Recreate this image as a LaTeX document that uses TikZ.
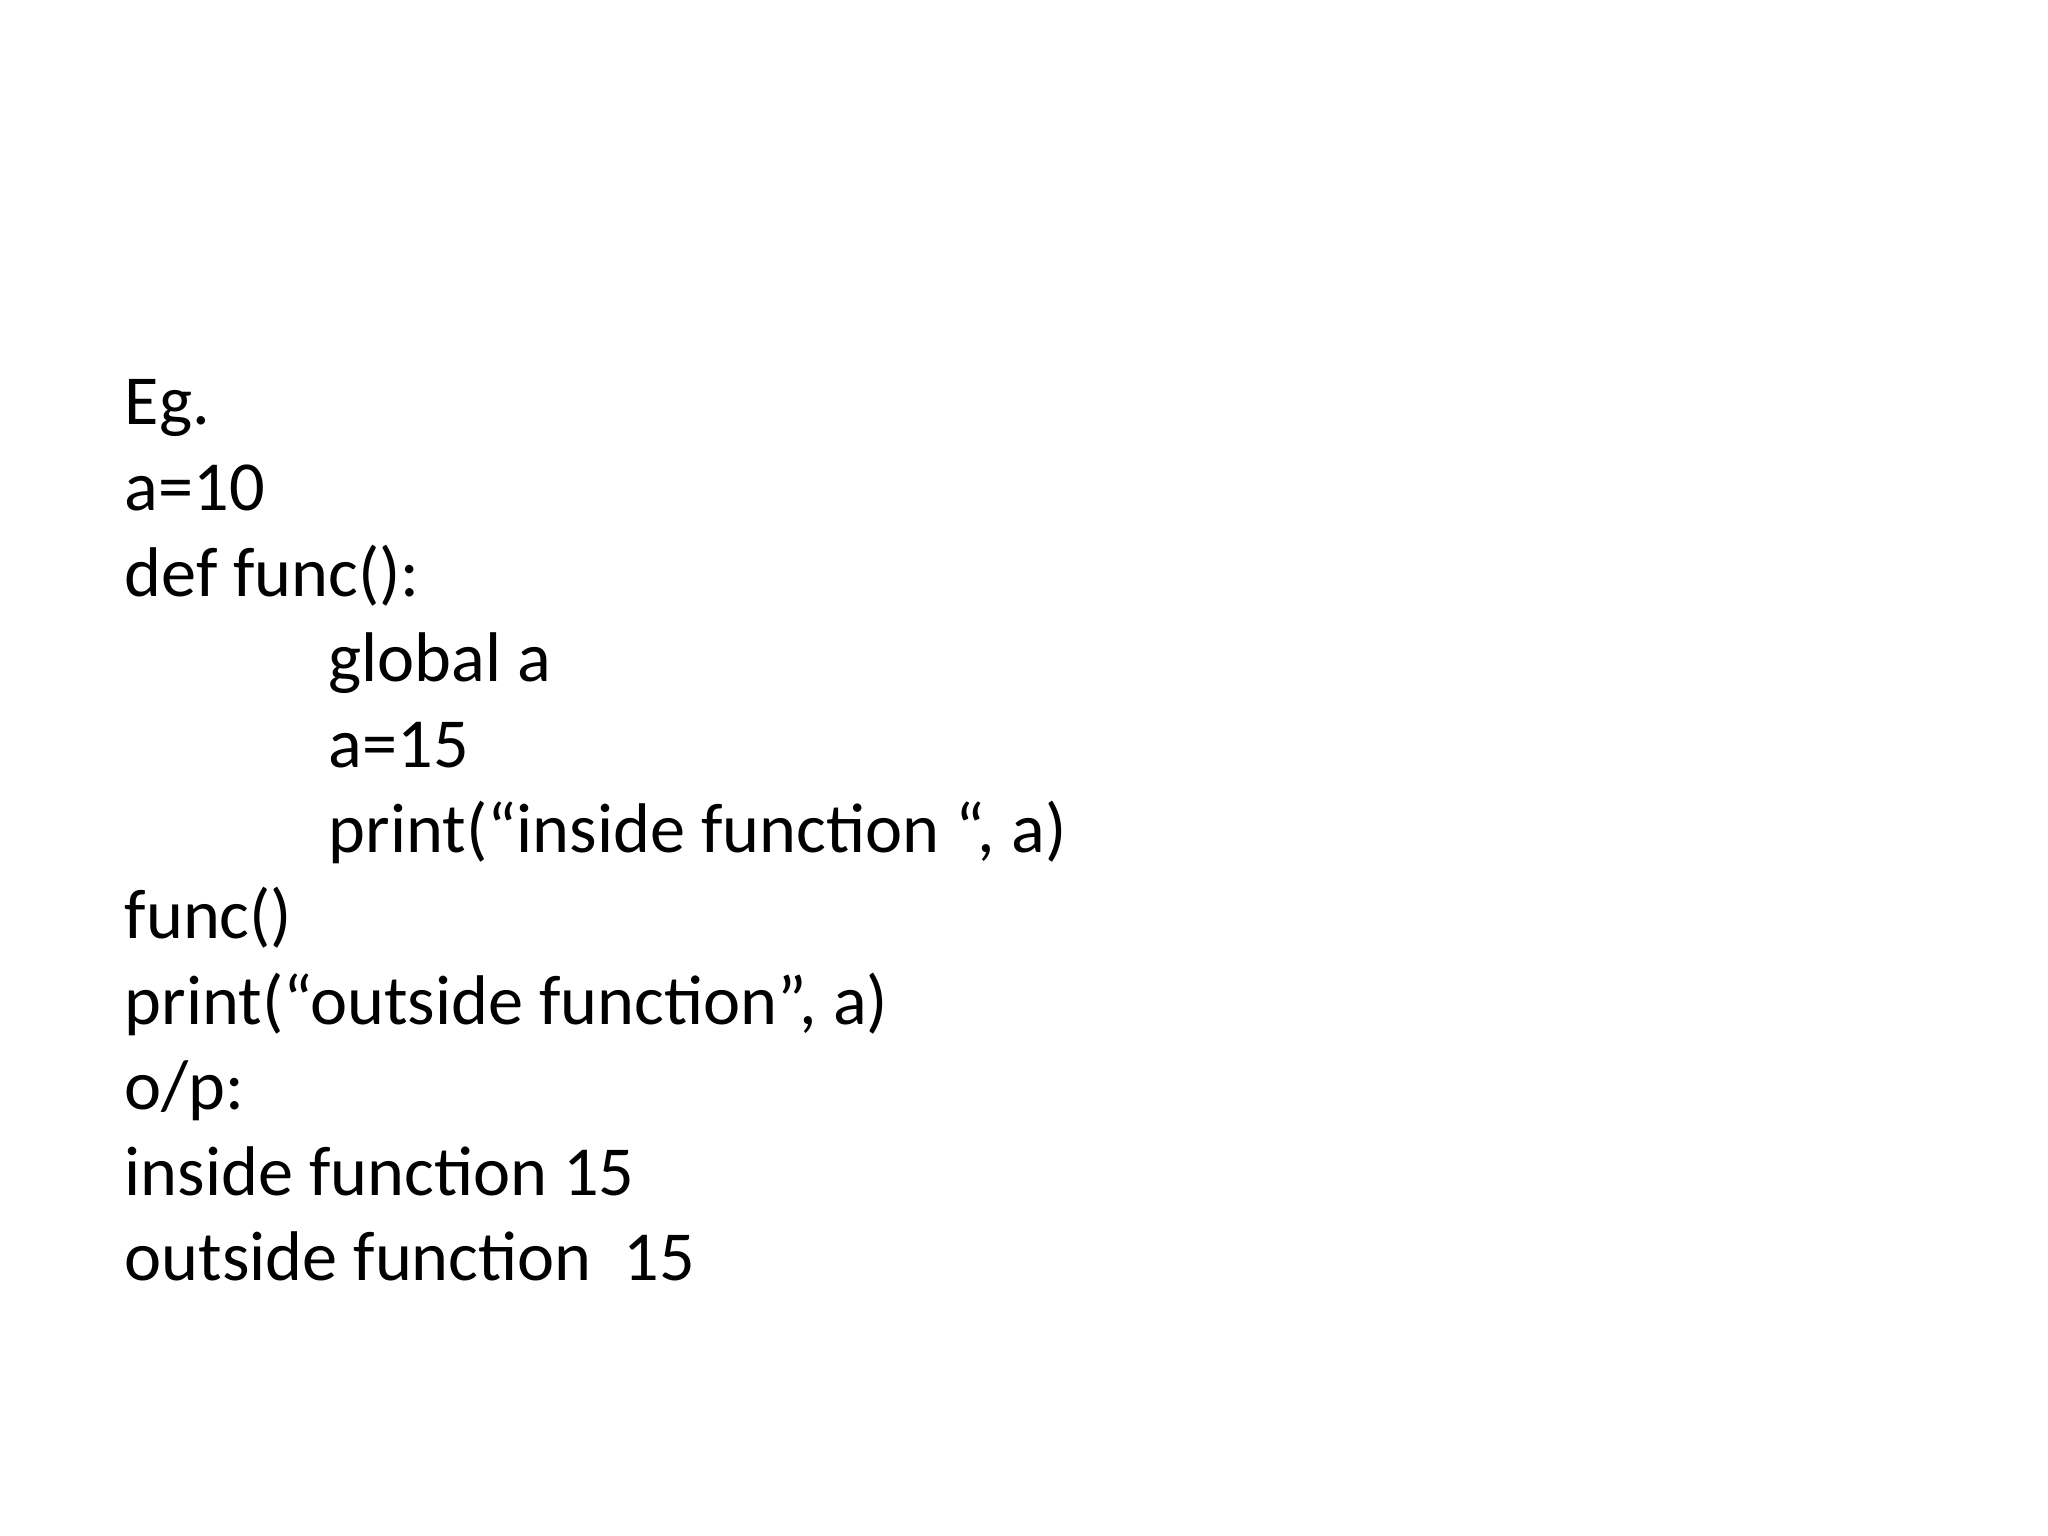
\documentclass[tikz,border=0pt]{standalone}
\usepackage{fontspec}
\setmainfont{Carlito}
\begin{document}
\begin{tikzpicture}[codeline/.style={anchor=base west,inner sep=0pt,font=\fontsize{20}{24}\selectfont}]
\useasboundingbox (0,0) rectangle (20.48,15.36);
% code lines
\node[codeline] (l1) at (1.24,11.11) {Eg.};
\node[codeline] (l2) at (1.24,10.254) {a=10};
\node[codeline] (l3) at (1.24,9.398) {def func():};
\node[codeline] (l4) at (3.28,8.542) {global a};
\node[codeline] (l5) at (3.28,7.686) {a=15};
\node[codeline] (l6) at (3.28,6.830) {print(“inside function “, a)};
\node[codeline] (l7) at (1.24,5.974) {func()};
\node[codeline] (l8) at (1.24,5.118) {print(“outside function”, a)};
\node[codeline] (l9) at (1.24,4.262) {o/p:};
\node[codeline] (l10) at (1.24,3.406) {inside function 15};
\node[codeline] (l11) at (1.24,2.550) {outside function~~15};
\end{tikzpicture}
\end{document}
